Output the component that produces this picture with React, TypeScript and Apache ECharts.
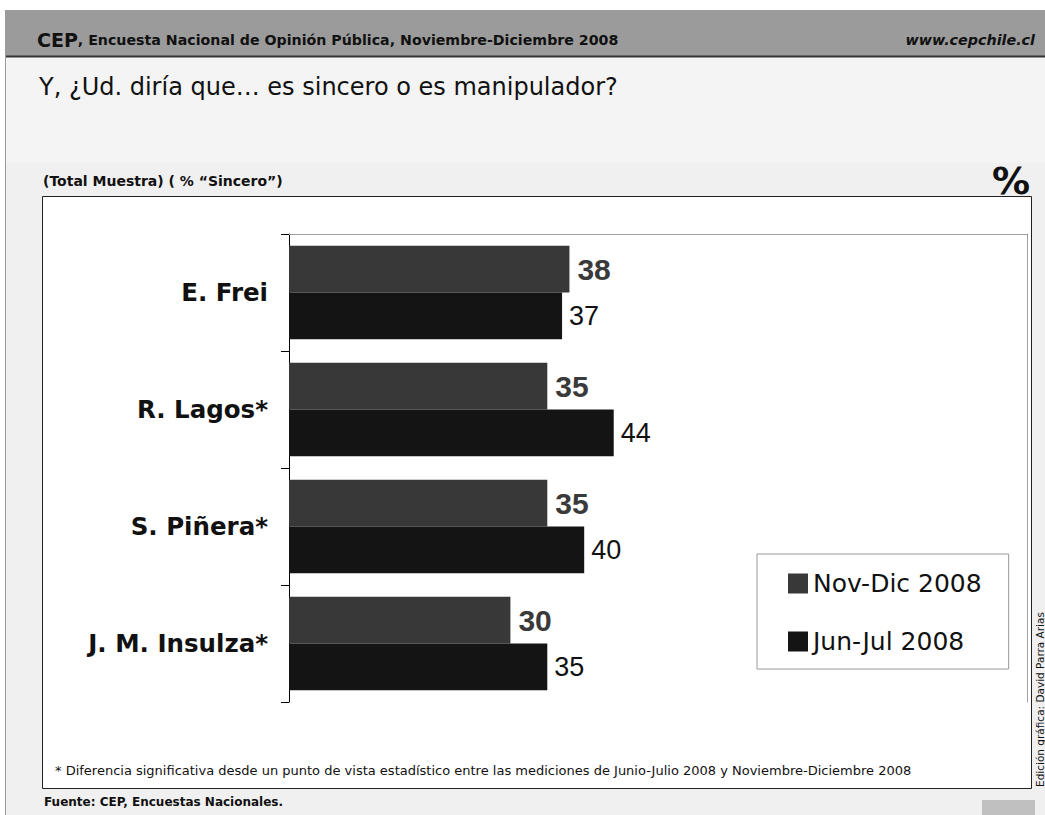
import React, { useEffect, useRef } from "react";
import * as echarts from "echarts";

const categories = ["E. Frei", "R. Lagos*", "S. Piñera*", "J. M. Insulza*"];
const novDic = [38, 35, 35, 30];
const junJul = [37, 44, 40, 35];
const seriesNames = ["Nov-Dic 2008", "Jun-Jul 2008"];

const headerMain = "CEP";
const headerRest = ", Encuesta Nacional de Opinión Pública, Noviembre-Diciembre 2008";
const headerUrl = "www.cepchile.cl";
const titleText = "Y, ¿Ud. diría que… es sincero o es manipulador?";
const subtitleText = "(Total Muestra) ( % “Sincero”)";
const footnoteText =
  "* Diferencia significativa desde un punto de vista estadístico entre las mediciones de Junio-Julio 2008 y Noviembre-Diciembre 2008";
const sourceText = "Fuente: CEP, Encuestas Nacionales.";
const creditText = "Edición gráfica: David Parra Arias";

const FONT = "DejaVu Sans";
const NUMFONT = "Liberation Sans";

export default function App() {
  const ref = useRef<HTMLDivElement>(null);
  useEffect(() => {
    if (!ref.current) return;
    const chart = echarts.init(ref.current, null, { renderer: "svg" });
    const option: any = {
      animation: false,
      backgroundColor: "#ffffff",
      graphic: [
        { type: "rect", z: -10, shape: { x: 5, y: 10, width: 1040, height: 46 }, style: { fill: "#9b9b9b" } },
        { type: "line", z: -9, shape: { x1: 5, y1: 56.5, x2: 1045, y2: 56.5 }, style: { stroke: "#333333", lineWidth: 2 } },
        { type: "rect", z: -10, shape: { x: 5, y: 57.5, width: 1040, height: 106 }, style: { fill: "#f4f4f4" } },
        { type: "rect", z: -10, shape: { x: 5, y: 163, width: 1040, height: 652 }, style: { fill: "#f0f0f0" } },
        { type: "line", z: -9, shape: { x1: 5.5, y1: 10, x2: 5.5, y2: 815 }, style: { stroke: "#9a9a9a", lineWidth: 1 } },
        { type: "rect", z: -8, shape: { x: 42.5, y: 196.5, width: 989, height: 592 }, style: { fill: "#ffffff", stroke: "#222222", lineWidth: 1 } },
        { type: "rect", z: -8, shape: { x: 982, y: 800, width: 53, height: 15 }, style: { fill: "#c0c0c0" } },
        {
          type: "text",
          z: 1,
          x: 37,
          y: 40,
          style: {
            text: "{a|" + headerMain + "}{b|" + headerRest + "}",
            verticalAlign: "middle",
            rich: {
              a: { fontFamily: FONT, fontSize: 19, fontWeight: "bold", fill: "#111111" },
              b: { fontFamily: FONT, fontSize: 14.2, fontWeight: "bold", fill: "#111111" },
            },
          },
        },
        {
          type: "text",
          z: 1,
          x: 1035,
          y: 40,
          style: { text: headerUrl, align: "right", verticalAlign: "middle", fontFamily: FONT, fontSize: 14.3, fontWeight: "bold", fontStyle: "italic", fill: "#111111" },
        },
        {
          type: "text",
          z: 1,
          x: 39,
          y: 87,
          style: { text: titleText, verticalAlign: "middle", fontFamily: FONT, fontSize: 24, fill: "#111111" },
        },
        {
          type: "text",
          z: 1,
          x: 43,
          y: 181,
          style: { text: subtitleText, verticalAlign: "middle", fontFamily: FONT, fontSize: 14, fontWeight: "bold", fill: "#111111" },
        },
        {
          type: "text",
          z: 1,
          x: 1030,
          y: 181,
          style: { text: "%", align: "right", verticalAlign: "middle", fontFamily: FONT, fontSize: 38, fontWeight: "bold", fill: "#111111" },
        },
        {
          type: "text",
          z: 1,
          x: 55,
          y: 770,
          style: { text: footnoteText, verticalAlign: "middle", fontFamily: FONT, fontSize: 13, fill: "#111111" },
        },
        {
          type: "text",
          z: 1,
          x: 44,
          y: 802,
          style: { text: sourceText, verticalAlign: "middle", fontFamily: FONT, fontSize: 12, fontWeight: "bold", fill: "#111111" },
        },
        {
          type: "text",
          z: 1,
          x: 1040,
          y: 787,
          rotation: Math.PI / 2,
          style: { text: creditText, align: "left", verticalAlign: "middle", fontFamily: FONT, fontSize: 10.5, fill: "#111111" },
        },
      ],
      grid: { left: 289, top: 234, right: 18, bottom: 113, containLabel: false },
      legend: {
        data: seriesNames,
        orient: "vertical",
        left: 757,
        top: 554,
        backgroundColor: "#ffffff",
        borderColor: "#999999",
        borderWidth: 1,
        padding: [17, 27, 15, 31],
        itemGap: 33,
        itemWidth: 20,
        itemHeight: 20,
        icon: "rect",
        textStyle: { fontFamily: FONT, fontSize: 25, color: "#111111" },
      },
      xAxis: {
        type: "value",
        min: 0,
        max: 100,
        position: "top",
        axisLine: { show: true, lineStyle: { color: "#a0a0a0", width: 1 } },
        axisTick: { show: false },
        axisLabel: { show: false },
        splitLine: { show: false },
      },
      yAxis: [
        {
          type: "category",
          data: categories,
          inverse: true,
          axisLine: { show: true, lineStyle: { color: "#000000", width: 1 } },
          axisTick: { show: true, length: 8, lineStyle: { color: "#000000" } },
          axisLabel: { margin: 21, fontFamily: FONT, fontSize: 24.5, fontWeight: "bold", color: "#111111" },
        },
        {
          type: "category",
          data: categories,
          inverse: true,
          position: "right",
          axisLine: { show: true, onZero: false, lineStyle: { color: "#a0a0a0", width: 1 } },
          axisTick: { show: false },
          axisLabel: { show: false },
        },
      ],
      series: [
        {
          name: seriesNames[0],
          type: "bar",
          yAxisIndex: 0,
          data: novDic,
          barGap: "0%",
          barCategoryGap: "20%",
          itemStyle: { color: "#383838" },
          label: { show: true, position: "right", distance: 8, fontFamily: NUMFONT, fontSize: 30, fontWeight: "bold", color: "#3a3a3a" },
        },
        {
          name: seriesNames[1],
          type: "bar",
          yAxisIndex: 0,
          data: junJul,
          barGap: "0%",
          barCategoryGap: "20%",
          itemStyle: { color: "#141414" },
          label: { show: true, position: "right", distance: 7, fontFamily: NUMFONT, fontSize: 27, color: "#111111" },
        },
      ],
    };
    chart.setOption(option);
    return () => chart.dispose();
  }, []);
  return <div ref={ref} style={{ position: "absolute", left: 0, top: 0, width: 1045, height: 815 }} />;
}
